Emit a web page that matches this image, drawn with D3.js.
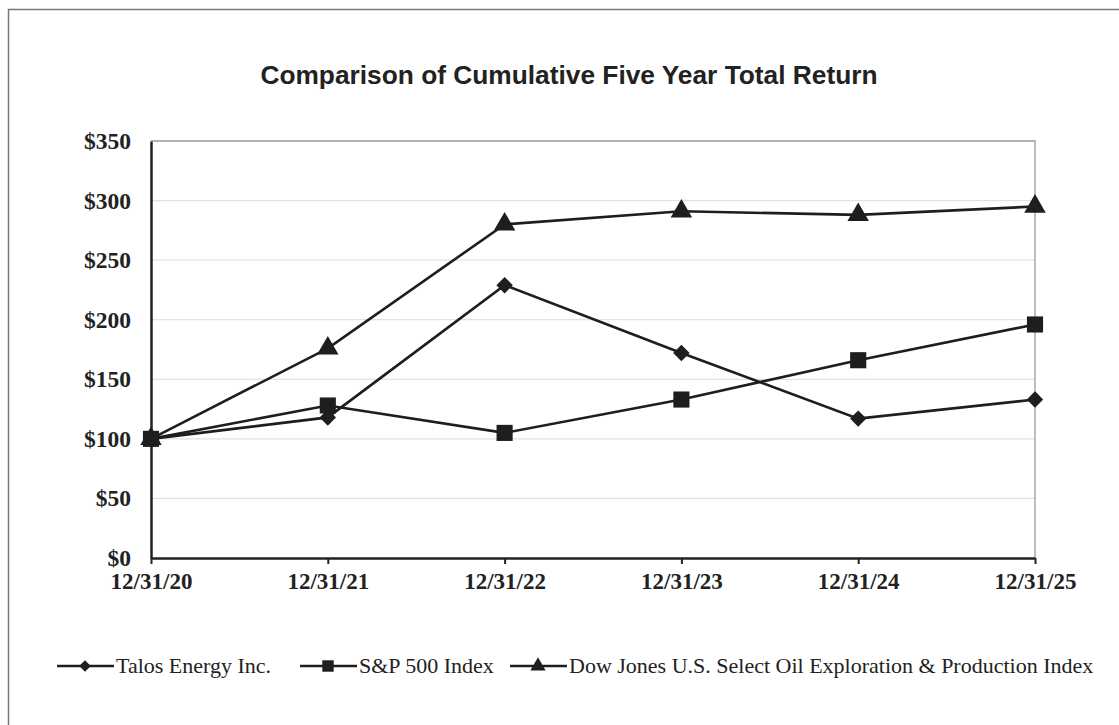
<!DOCTYPE html>
<html>
<head>
<meta charset="utf-8">
<script src="https://cdn.jsdelivr.net/npm/d3@7"></script>
<style>
  body { margin: 0; background: #fff; }
  svg { display: block; }
</style>
</head>
<body>
<div id="chart"></div>
<script>
// Chart data
const dates = ["12/31/20", "12/31/21", "12/31/22", "12/31/23", "12/31/24", "12/31/25"];
const talos = [100, 118, 229, 172, 117, 133];
const sp500 = [100, 128, 105, 133, 166, 196];
const dowJones = [100, 176, 280, 291, 288, 295];
const yTicks = [0, 50, 100, 150, 200, 250, 300, 350];

// diamond = square turned 45 degrees
const seriesList = [
    {name: "Talos Energy Inc.", values: talos, symbol: d3.symbolSquare, rotate: 45, size: 135},
    {name: "S&P 500 Index", values: sp500, symbol: d3.symbolSquare, rotate: 0, size: 260},
    {name: "Dow Jones U.S. Select Oil Exploration & Production Index", values: dowJones, symbol: d3.symbolTriangle, rotate: 0, size: 200}
];

const width = 1119, height = 725;
const plot = {left: 151, right: 1035, top: 141, bottom: 558};
const serif = "'Liberation Serif', 'Times New Roman', serif";

const svg = d3.select("#chart").append("svg")
    .attr("width", width)
    .attr("height", height);

// outer frame
svg.append("rect")
    .attr("x", 8.5).attr("y", 9.5)
    .attr("width", 1120).attr("height", 730)
    .attr("fill", "none")
    .attr("stroke", "#777")
    .attr("stroke-width", 1.5);

svg.append("text")
    .attr("x", 569).attr("y", 84)
    .attr("text-anchor", "middle")
    .style("font-family", "'Liberation Sans', Arial, sans-serif")
    .style("font-size", "26.3px")
    .style("font-weight", "bold")
    .style("fill", "#222")
    .text("Comparison of Cumulative Five Year Total Return");

const x = d3.scalePoint().domain(dates).range([plot.left, plot.right]);
const y = d3.scaleLinear().domain([0, 350]).range([plot.bottom, plot.top]);

// gridlines
svg.append("g")
    .selectAll("line")
    .data(yTicks.filter(t => t > 0 && t < 350))
    .join("line")
    .attr("x1", plot.left).attr("x2", plot.right)
    .attr("y1", d => y(d)).attr("y2", d => y(d))
    .attr("stroke", "#e2e2e2")
    .attr("stroke-width", 1.2);

// top and right frame of plot area
svg.append("path")
    .attr("d", `M${plot.left},${plot.top}H${plot.right}V${plot.bottom}`)
    .attr("fill", "none")
    .attr("stroke", "#9a9a9a")
    .attr("stroke-width", 1.3);

// y axis
const yAxis = svg.append("g")
    .attr("transform", `translate(${plot.left},0)`)
    .call(d3.axisLeft(y).tickValues(yTicks).tickSize(0).tickPadding(20).tickFormat(d => "$" + d));
yAxis.select(".domain").attr("stroke", "#222").attr("stroke-width", 2.5);
yAxis.selectAll("text")
    .style("font-family", serif)
    .style("font-size", "23.5px")
    .style("font-weight", "bold")
    .style("fill", "#222");

// x axis
const xAxis = svg.append("g")
    .attr("transform", `translate(0,${plot.bottom})`)
    .call(d3.axisBottom(x).tickSizeInner(6).tickSizeOuter(0).tickPadding(9));
xAxis.select(".domain").attr("stroke", "#222").attr("stroke-width", 2.5);
xAxis.selectAll(".tick line").attr("stroke", "#222").attr("stroke-width", 2);
xAxis.selectAll("text")
    .style("font-family", serif)
    .style("font-size", "23px")
    .style("font-weight", "bold")
    .style("fill", "#222");

const line = d3.line()
    .x((d, i) => x(dates[i]))
    .y(d => y(d));

// draw series (Dow first so Talos/S&P sit on top)
seriesList.slice().reverse().forEach(s => {
    svg.append("path")
        .datum(s.values)
        .attr("d", line)
        .attr("fill", "none")
        .attr("stroke", "#1e1e1e")
        .attr("stroke-width", 2.6);
    svg.append("g")
        .selectAll("path")
        .data(s.values)
        .join("path")
        .attr("transform", (d, i) => `translate(${x(dates[i])},${y(d)}) rotate(${s.rotate})`)
        .attr("d", d3.symbol().type(s.symbol).size(s.size))
        .attr("fill", "#1e1e1e");
});

// legend
const legendX = [57, 300, 510];
const legend = svg.append("g").attr("transform", "translate(0,666)");
seriesList.forEach((s, i) => {
    const g = legend.append("g").attr("transform", `translate(${legendX[i]},0)`);
    g.append("line")
        .attr("x1", 0).attr("x2", 57)
        .attr("stroke", "#1e1e1e").attr("stroke-width", 2.6);
    g.append("path")
        .attr("transform", `translate(28,0) rotate(${s.rotate})`)
        .attr("d", d3.symbol().type(s.symbol).size(s.size * 0.5))
        .attr("fill", "#1e1e1e");
    g.append("text")
        .attr("x", 59).attr("y", 7)
        .style("font-family", serif)
        .style("font-size", "22px")
        .style("fill", "#222")
        .text(s.name);
});
</script>
</body>
</html>
